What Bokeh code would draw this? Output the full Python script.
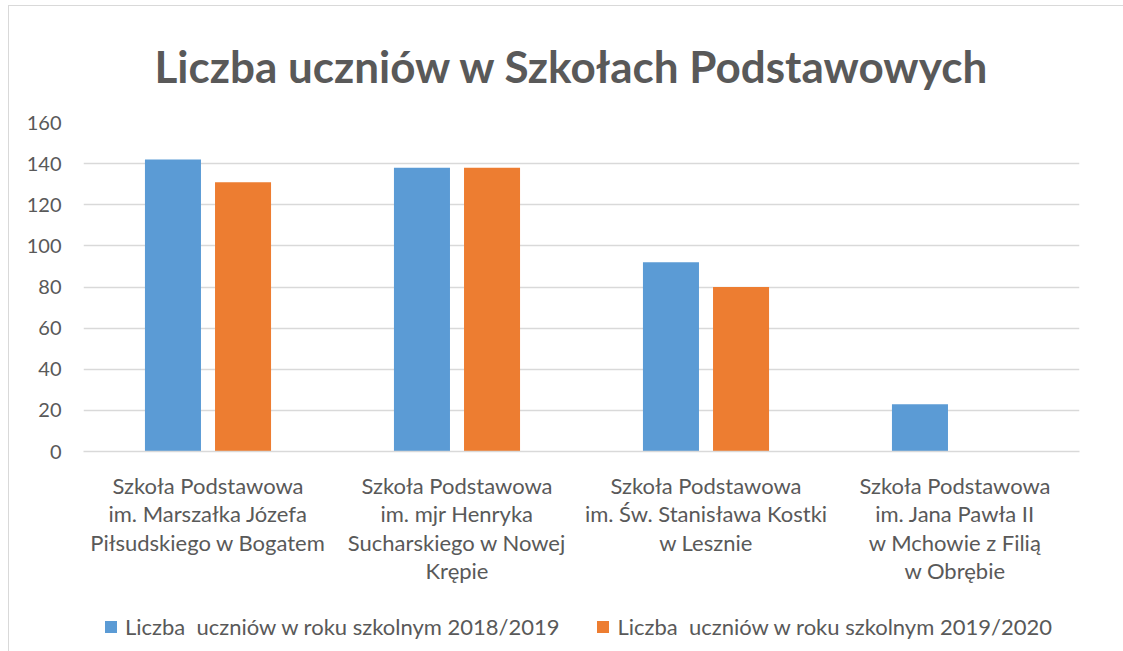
from bokeh.plotting import figure
from bokeh.layouts import column
from bokeh.models import (ColumnDataSource, FactorRange, Range1d, Legend, LegendItem,
                          SingleIntervalTicker)
from bokeh.transform import dodge
from bokeh.embed import file_html
from bokeh.resources import INLINE

title_text = "Liczba uczniów w Szkołach Podstawowych"

schools = [
    "Szkoła Podstawowa\nim. Marszałka Józefa\nPiłsudskiego w Bogatem",
    "Szkoła Podstawowa\nim. mjr Henryka\nSucharskiego w Nowej\nKrępie",
    "Szkoła Podstawowa\nim. Św. Stanisława Kostki\nw Lesznie",
    "Szkoła Podstawowa\nim. Jana Pawła II\nw Mchowie z Filią\nw Obrębie",
]
series_names = [
    "Liczba  uczniów w roku szkolnym 2018/2019",
    "Liczba  uczniów w roku szkolnym 2019/2020",
]
students_2018_2019 = [142, 138, 92, 23]
students_2019_2020 = [131, 138, 80, float("nan")]

y_ticks_interval = 20
y_max = 160

BLUE = "#5B9BD5"
ORANGE = "#ED7D31"
TEXT = "#595959"
GRID = "#D9D9D9"
FONT = "Lato"

source = ColumnDataSource(dict(school=schools, a=students_2018_2019, b=students_2019_2020))

p = figure(
    width=1114, height=585,
    x_range=FactorRange(factors=schools, range_padding=0),
    y_range=Range1d(0, y_max),
    output_backend="svg", toolbar_location=None,
    min_border_left=74, min_border_right=44, min_border_top=100, min_border_bottom=140,
    title=title_text,
)
p.outline_line_color = None
p.background_fill_color = "white"
p.border_fill_color = "white"

p.title.align = "left"
p.title.offset = 71
p.title.text_font = FONT
p.title.text_font_style = "bold"
p.title.text_font_size = "44px"
p.title.text_color = TEXT
p.title.standoff = 62

r1 = p.vbar(x=dodge("school", -0.1407, range=p.x_range), top="a", width=0.225,
            source=source, fill_color=BLUE, line_color=None)
r2 = p.vbar(x=dodge("school", 0.1407, range=p.x_range), top="b", width=0.225,
            source=source, fill_color=ORANGE, line_color=None)

# axes
p.yaxis.ticker = SingleIntervalTicker(interval=y_ticks_interval)
p.yaxis.axis_line_color = None
p.yaxis.major_tick_line_color = None
p.yaxis.minor_tick_line_color = None
p.yaxis.major_label_standoff = 16
p.yaxis.major_label_text_font = FONT
p.yaxis.major_label_text_font_size = "20px"
p.yaxis.major_label_text_color = TEXT

p.xaxis.axis_line_color = GRID
p.xaxis.axis_line_width = 1.5
p.xaxis.major_tick_line_color = None
p.xaxis.minor_tick_line_color = None
p.xaxis.major_label_standoff = 14
p.xaxis.major_label_text_font = FONT
p.xaxis.major_label_text_font_size = "22px"
p.xaxis.major_label_text_color = TEXT
p.xaxis.major_label_text_line_height = 1.06
p.xaxis.major_label_orientation = "horizontal"

p.xgrid.grid_line_color = None
p.ygrid.grid_line_color = GRID
p.ygrid.grid_line_width = 1.5

# legend in its own strip below the chart
lf = figure(width=1114, height=60, output_backend="svg", toolbar_location=None,
            x_range=Range1d(0, 1), y_range=Range1d(0, 1),
            min_border_left=0, min_border_right=0, min_border_top=0, min_border_bottom=0)
lf.axis.visible = False
lf.grid.visible = False
lf.outline_line_color = None
swatch = ColumnDataSource(dict(x=[0], top=[0]))
l1 = lf.vbar(x="x", top="top", width=0, source=swatch, fill_color=BLUE, line_color=None)
l2 = lf.vbar(x="x", top="top", width=0, source=swatch, fill_color=ORANGE, line_color=None)
legend = Legend(items=[LegendItem(label=series_names[0], renderers=[l1]),
                       LegendItem(label=series_names[1], renderers=[l2])],
                orientation="horizontal", location=(20, 11),
                label_text_font=FONT, label_text_font_size="22px",
                label_text_color=TEXT, glyph_width=15, glyph_height=15,
                label_standoff=7, spacing=36, border_line_color=None,
                background_fill_alpha=0, padding=4, margin=0)
lf.add_layout(legend)

layout = column(p, lf, spacing=0)
layout.styles = {"margin-left": "8px", "margin-top": "5px",
                 "border-left": "1px solid #D9D9D9", "border-top": "1px solid #D9D9D9"}
open("out.html", "w").write(file_html(layout, INLINE))
